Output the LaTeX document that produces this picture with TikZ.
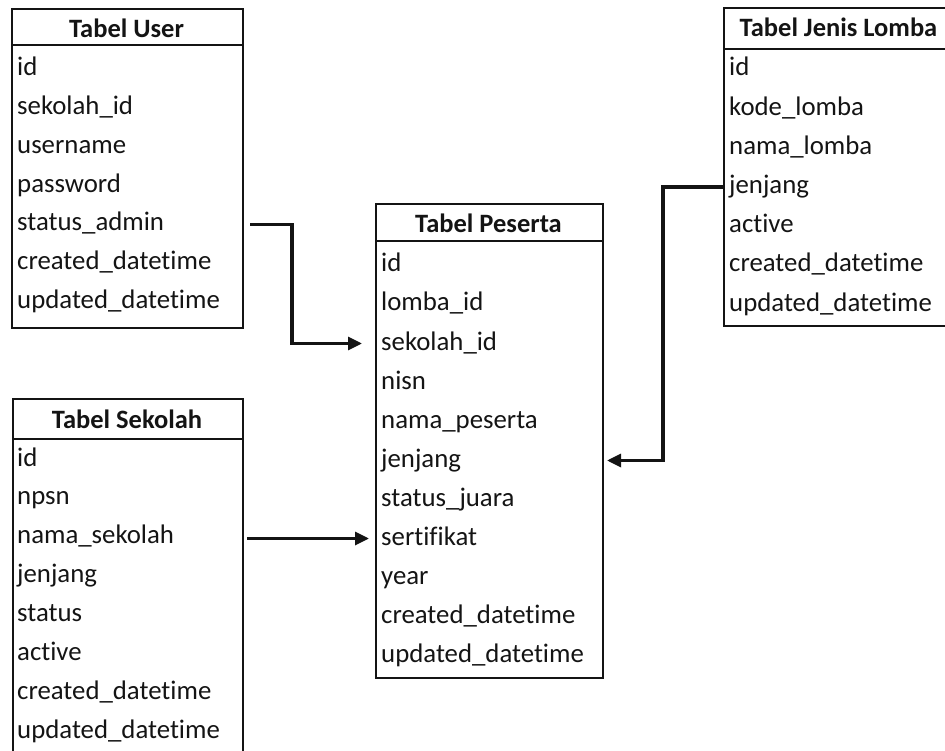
\documentclass[tikz,border=0pt]{standalone}
\usepackage{fontspec}
\setmainfont{Carlito}[Ligatures=NoCommon]
\usetikzlibrary{arrows.meta,calc}
\definecolor{ink}{HTML}{141414}

\tikzset{
  tablebox/.style={draw=ink, line width=2pt, rectangle, inner sep=0pt, anchor=north west},
  headline/.style={draw=ink, line width=2pt},
  tabletitle/.style={anchor=base, inner sep=0pt, text=ink, font=\fontsize{26.5}{30}\selectfont\bfseries},
  field/.style={anchor=base west, inner sep=0pt, text height=18pt, text depth=5pt, text=ink,
                font=\fontsize{26.8}{30}\selectfont},
  link/.style={draw=ink, line width=3.2pt, -{Triangle[length=14pt,width=13pt]}}
}

\begin{document}
\begin{tikzpicture}[x=1pt,y=-1pt]
\useasboundingbox (0,0) rectangle (945,751);

% ---------- Tabel User ----------
\node[tablebox, minimum width=231pt, minimum height=319pt] (user) at (11,8) {};
\draw[headline] (11,45) -- (242,45);
\node[tabletitle] (usertitle) at (126.5,38) {Tabel User};
\foreach \t [count=\i] in {id, sekolah\_id, username, password, status\_admin,
                           created\_datetime, updated\_datetime}
  \node[field] (u\i) at (17,{76+(\i-1)*38.7}) {\t};

% ---------- Tabel Jenis Lomba ----------
\node[tablebox, minimum width=260pt, minimum height=318pt] (lomba) at (723,7) {};
\draw[headline] (723,49) -- (983,49);
\node[tabletitle] (lombatitle) at (838.5,37) {Tabel Jenis Lomba};
\foreach \t [count=\i] in {id, kode\_lomba, nama\_lomba, jenjang, active,
                           created\_datetime, updated\_datetime}
  \node[field] (j\i) at (729,{76+(\i-1)*39.2}) {\t};

% ---------- Tabel Peserta ----------
\node[tablebox, minimum width=227pt, minimum height=474pt] (peserta) at (375,203) {};
\draw[headline] (375,241) -- (602,241);
\node[tabletitle] (pesertatitle) at (488.5,233) {Tabel Peserta};
\foreach \t [count=\i] in {id, lomba\_id, sekolah\_id, nisn, nama\_peserta, jenjang,
                           status\_juara, sertifikat, year, created\_datetime,
                           updated\_datetime}
  \node[field] (p\i) at (381,{272+(\i-1)*39}) {\t};

% ---------- Tabel Sekolah ----------
\node[tablebox, minimum width=230pt, minimum height=380pt] (sekolah) at (12,398) {};
\draw[headline] (12,439) -- (242,439);
\node[tabletitle] (sekolahtitle) at (127,428) {Tabel Sekolah};
\foreach \t [count=\i] in {id, npsn, nama\_sekolah, jenjang, status, active,
                           created\_datetime, updated\_datetime}
  \node[field] (s\i) at (17,{466+(\i-1)*38.9}) {\t};

% ---------- Relations ----------
% user.status_admin -> peserta.sekolah_id
\draw[link] ($(user.east |- u5)+(6,0)$) -- ++(42,0)
            |- ($(peserta.west |- p3)+(-13,0)$);
% sekolah.nama_sekolah -> peserta.sertifikat
\draw[link] ($(sekolah.east |- p8)+(3,0)$) -- ($(peserta.west |- p8)+(-6,0)$);
% lomba.jenjang -> peserta.jenjang
\draw[link] (lomba.west |- j4) -- ++(-60,0)
            |- ($(peserta.east |- p6)+(3,0)$);
\end{tikzpicture}
\end{document}
